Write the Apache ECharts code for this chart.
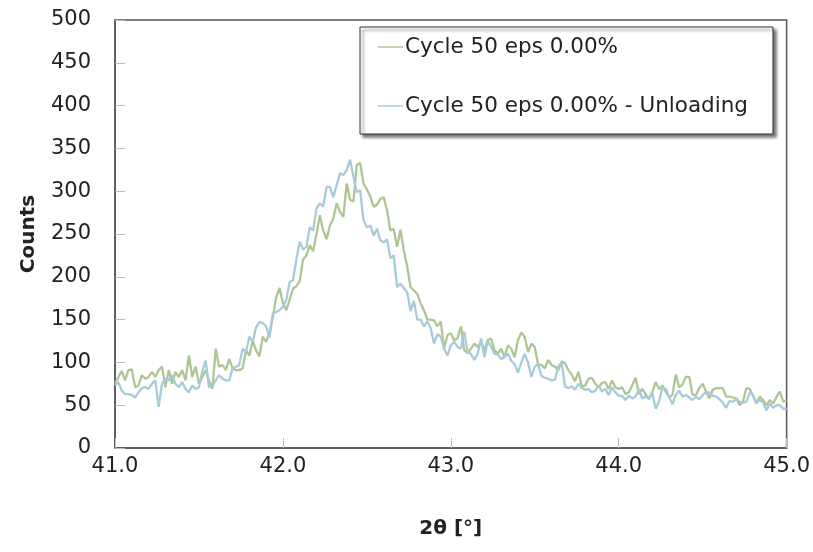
<!DOCTYPE html>
<html>
<head>
<meta charset="utf-8">
<script src="https://cdn.jsdelivr.net/npm/echarts@6/dist/echarts.min.js"></script>
<style>
  html, body { margin: 0; padding: 0; background: #fff; }
  #chart { width: 813px; height: 552px; }
</style>
</head>
<body>
<div id="chart"></div>
<script>
// 2θ grid: 41.00 .. 45.00, step 0.02
const thetaStart = 41
const thetaStep = 0.02

const seriesNames = ['Cycle 50 eps 0.00%', 'Cycle 50 eps 0.00% - Unloading']

const loadingCounts = [
  75, 83, 90, 79, 91, 92, 71, 73, 85, 81,
  83, 89, 83, 91, 95, 71, 91, 75, 89, 83,
  91, 79, 108, 83, 95, 75, 83, 91, 79, 69,
  116, 95, 97, 91, 104, 93, 91, 91, 93, 114,
  108, 125, 114, 107, 130, 124, 134, 153, 176, 187,
  169, 161, 173, 186, 189, 195, 220, 225, 237, 230,
  250, 272, 254, 244, 260, 268, 286, 276, 270, 309,
  290, 288, 331, 333, 309, 302, 294, 282, 284, 291, 293,
  278, 254, 256, 235, 255, 231, 212, 188, 184, 180,
  169, 161, 150, 150, 149, 142, 148, 116, 132, 134,
  126, 128, 142, 114, 111, 116, 122, 118, 124, 114,
  126, 128, 114, 110, 116, 106, 120, 116, 106, 126, 135,
  130, 112, 122, 118, 97, 97, 93, 103, 97,
  95, 91, 101, 99, 91, 86, 78, 89, 72, 73,
  81, 82, 75, 71, 76, 77, 69, 79, 71, 69,
  71, 63, 65, 73, 82, 63, 69, 63, 57, 65, 77, 69,
  73, 66, 59, 62, 86, 71, 74, 83, 83, 62,
  62, 70, 75, 66, 58, 68, 70, 70, 70, 60,
  60, 59, 58, 50, 54, 70, 69, 61, 52, 60,
  56, 50, 56, 52, 60, 66, 54, 56
]

const unloadingCounts = [
  73, 77, 67, 63, 63, 62, 59, 65, 70, 71,
  69, 75, 79, 48, 75, 81, 79, 85, 75, 71,
  77, 69, 65, 73, 69, 71, 90, 102, 71, 73,
  79, 85, 81, 79, 79, 93, 95, 97, 116, 112,
  130, 124, 141, 147, 146, 142, 129, 157, 159, 161,
  165, 173, 194, 196, 220, 241, 232, 235, 258, 254,
  280, 286, 282, 305, 305, 293, 307, 321, 319, 325,
  337, 317, 299, 301, 266, 258, 260, 248, 256, 243, 240,
  244, 222, 225, 188, 192, 187, 182, 160, 172, 150,
  150, 142, 148, 140, 122, 133, 130, 116, 108, 120,
  124, 118, 116, 136, 112, 110, 103, 110, 128, 106,
  125, 118, 110, 109, 104, 106, 110, 102, 98, 88, 100,
  110, 100, 83, 95, 98, 84, 82, 81, 79,
  80, 95, 100, 72, 70, 72, 68, 75, 70, 68,
  69, 65, 67, 73, 66, 69, 62, 71, 65, 61,
  61, 56, 61, 58, 60, 69, 58, 60, 58, 64, 46, 54,
  71, 69, 60, 51, 62, 67, 60, 62, 59, 56,
  60, 57, 62, 65, 65, 61, 60, 57, 53, 47,
  55, 54, 57, 54, 53, 54, 65, 62, 53, 56,
  53, 44, 52, 47, 50, 50, 46, 45
]

const xTicks = [41, 42, 43, 44, 45]
const yTicks = [0, 50, 100, 150, 200, 250, 300, 350, 400, 450, 500]

const colors = ['#adc692', '#a6cbd9']
const fontFamily = 'DejaVu Sans'

const toPairs = (vals) => vals.map((v, i) => [+(thetaStart + i * thetaStep).toFixed(2), v])

const chart = echarts.init(document.getElementById('chart'), null, { renderer: 'canvas' })

chart.setOption({
  animation: false,
  backgroundColor: '#fff',
  color: colors,
  grid: {
    left: 115,
    right: 26,
    top: 20,
    bottom: 104,
    show: true,
    borderColor: '#555',
    borderWidth: 1.5
  },
  legend: {
    orient: 'vertical',
    left: 360,
    top: 27,
    padding: [9, 25, 17, 18],
    icon: 'rect',
    itemWidth: 25,
    itemHeight: 1.5,
    itemGap: 37,
    backgroundColor: '#fff',
    borderColor: '#333',
    borderWidth: 1,
    shadowColor: 'rgba(0,0,0,0.55)',
    shadowBlur: 3,
    shadowOffsetX: 3,
    shadowOffsetY: 3,
    textStyle: {
      fontFamily: fontFamily,
      fontSize: 21.5,
      lineHeight: 20,
      color: '#222',
      padding: [0, 0, 0, -3]
    },
    data: seriesNames
  },
  xAxis: {
    type: 'value',
    min: xTicks[0],
    max: xTicks[xTicks.length - 1],
    interval: 1,
    name: '2θ [°]',
    nameLocation: 'middle',
    nameGap: 71,
    nameTextStyle: { fontFamily: fontFamily, fontSize: 20, fontWeight: 'bold', color: '#222' },
    axisLine: { show: true, lineStyle: { color: '#555', width: 1.5 } },
    axisTick: { show: true, inside: true, length: 10, lineStyle: { color: '#bbb' } },
    axisLabel: {
      margin: 8,
      fontFamily: fontFamily,
      fontSize: 21,
      color: '#222',
      formatter: (v) => v.toFixed(1)
    },
    splitLine: { show: false }
  },
  yAxis: {
    type: 'value',
    min: yTicks[0],
    max: yTicks[yTicks.length - 1],
    interval: 50,
    name: 'Counts',
    nameLocation: 'middle',
    nameGap: 76,
    nameRotate: 90,
    nameTextStyle: { fontFamily: fontFamily, fontSize: 20, fontWeight: 'bold', color: '#222' },
    axisLine: { show: true, lineStyle: { color: '#555', width: 1.5 } },
    axisTick: { show: true, inside: true, length: 10, lineStyle: { color: '#bbb' } },
    axisLabel: { margin: 24, fontFamily: fontFamily, fontSize: 21, color: '#222' },
    splitLine: { show: false }
  },
  series: [
    {
      name: seriesNames[0],
      type: 'line',
      symbol: 'none',
      data: toPairs(loadingCounts),
      lineStyle: { width: 2.3, color: colors[0] },
      itemStyle: { color: colors[0] }
    },
    {
      name: seriesNames[1],
      type: 'line',
      symbol: 'none',
      data: toPairs(unloadingCounts),
      lineStyle: { width: 2.3, color: colors[1] },
      itemStyle: { color: colors[1] }
    }
  ]
})
</script>
</body>
</html>
